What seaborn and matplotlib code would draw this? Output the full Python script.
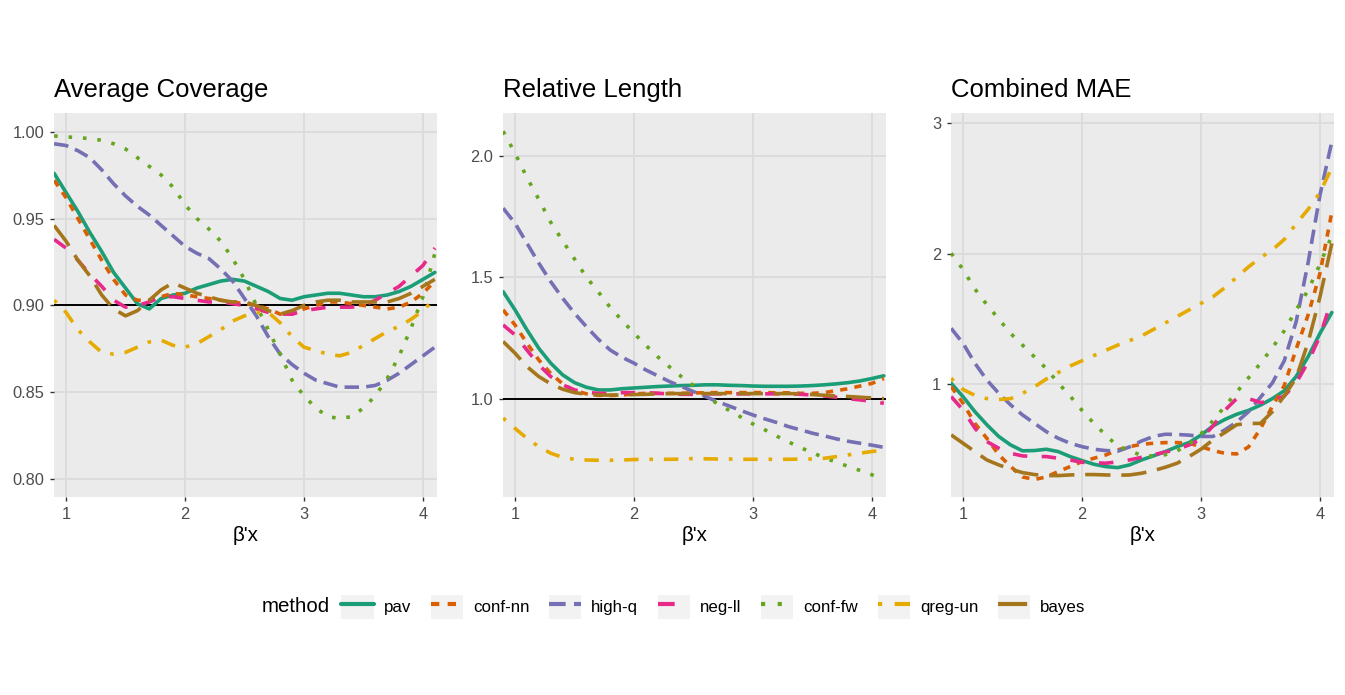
import pandas as pd
import seaborn as sns
import matplotlib
import matplotlib.pyplot as plt
from matplotlib.lines import Line2D
from matplotlib.patches import Rectangle
from matplotlib.legend_handler import HandlerLine2D

matplotlib.use("Agg")

# значения, шаг по β'x = 0.1
beta_x = [0.9, 1.0, 1.1, 1.2, 1.3, 1.4, 1.5, 1.6, 1.7, 1.8, 1.9,
          2.0, 2.1, 2.2, 2.3, 2.4, 2.5, 2.6, 2.7, 2.8, 2.9,
          3.0, 3.1, 3.2, 3.3, 3.4, 3.5, 3.6, 3.7, 3.8, 3.9, 4.0, 4.1]

methods = ["pav", "conf-nn", "high-q", "neg-ll", "conf-fw", "qreg-un", "bayes"]
panel_titles = ["Average Coverage", "Relative Length", "Combined MAE"]

# Average Coverage
cov_pav = [0.976, 0.965, 0.954, 0.942, 0.931, 0.919, 0.910, 0.901, 0.898, 0.904, 0.906,
           0.907, 0.910, 0.912, 0.914, 0.915, 0.914, 0.911, 0.908, 0.904, 0.903,
           0.905, 0.906, 0.907, 0.907, 0.906, 0.905, 0.905, 0.906, 0.908, 0.911, 0.915, 0.919]
cov_confnn = [0.972, 0.962, 0.950, 0.938, 0.926, 0.915, 0.906, 0.903, 0.903, 0.905, 0.907,
              0.906, 0.905, 0.904, 0.903, 0.902, 0.901, 0.900, 0.898, 0.895, 0.895,
              0.898, 0.900, 0.902, 0.902, 0.901, 0.900, 0.899, 0.898, 0.899, 0.902, 0.907, 0.914]
cov_highq = [0.993, 0.992, 0.989, 0.985, 0.978, 0.970, 0.963, 0.957, 0.952, 0.946, 0.940,
             0.934, 0.930, 0.927, 0.921, 0.914, 0.904, 0.894, 0.882, 0.872, 0.866,
             0.861, 0.857, 0.855, 0.853, 0.853, 0.853, 0.854, 0.857, 0.861, 0.866, 0.871, 0.876]
cov_negll = [0.938, 0.933, 0.926, 0.918, 0.911, 0.903, 0.899, 0.900, 0.902, 0.905, 0.905,
             0.904, 0.903, 0.902, 0.902, 0.901, 0.900, 0.898, 0.896, 0.895, 0.895,
             0.897, 0.898, 0.899, 0.899, 0.899, 0.900, 0.903, 0.907, 0.911, 0.917, 0.923, 0.933]
cov_conffw = [0.9975, 0.997, 0.9965, 0.996, 0.995, 0.993, 0.990, 0.985, 0.980, 0.975, 0.968,
              0.958, 0.950, 0.944, 0.937, 0.927, 0.915, 0.900, 0.886, 0.872, 0.857,
              0.848, 0.841, 0.836, 0.835, 0.836, 0.841, 0.848, 0.858, 0.871, 0.887, 0.905, 0.930]
cov_qregun = [0.903, 0.896, 0.886, 0.879, 0.873, 0.872, 0.873, 0.876, 0.879, 0.880, 0.877,
              0.876, 0.878, 0.882, 0.886, 0.891, 0.894, 0.896, 0.896, 0.890, 0.882,
              0.876, 0.874, 0.872, 0.871, 0.873, 0.877, 0.881, 0.885, 0.888, 0.892, 0.897, 0.904]
cov_bayes = [0.946, 0.937, 0.926, 0.917, 0.906, 0.898, 0.894, 0.897, 0.903, 0.909, 0.913,
             0.910, 0.907, 0.905, 0.903, 0.902, 0.902, 0.900, 0.897, 0.895, 0.897,
             0.900, 0.902, 0.903, 0.903, 0.902, 0.902, 0.902, 0.902, 0.904, 0.907, 0.911, 0.915]

# Relative Length
len_pav = [1.441, 1.366, 1.284, 1.208, 1.147, 1.099, 1.067, 1.048, 1.037, 1.037, 1.042,
           1.045, 1.048, 1.051, 1.053, 1.055, 1.056, 1.058, 1.058, 1.056, 1.055,
           1.053, 1.052, 1.052, 1.052, 1.053, 1.055, 1.058, 1.062, 1.067, 1.074, 1.084, 1.095]
len_confnn = [1.366, 1.304, 1.229, 1.160, 1.105, 1.062, 1.034, 1.021, 1.015, 1.014, 1.016,
              1.021, 1.023, 1.023, 1.023, 1.023, 1.025, 1.025, 1.026, 1.026, 1.026,
              1.026, 1.026, 1.025, 1.025, 1.023, 1.023, 1.026, 1.034, 1.042, 1.053, 1.064, 1.084]
len_highq = [1.784, 1.722, 1.640, 1.558, 1.482, 1.414, 1.352, 1.297, 1.245, 1.201, 1.171,
             1.147, 1.119, 1.095, 1.071, 1.051, 1.030, 1.010, 0.989, 0.971, 0.952,
             0.934, 0.918, 0.903, 0.886, 0.873, 0.859, 0.848, 0.836, 0.826, 0.818, 0.810, 0.801]
len_negll = [1.304, 1.263, 1.201, 1.140, 1.092, 1.058, 1.037, 1.027, 1.023, 1.023, 1.026,
             1.026, 1.026, 1.023, 1.021, 1.019, 1.019, 1.021, 1.021, 1.021, 1.021,
             1.021, 1.021, 1.021, 1.021, 1.019, 1.016, 1.012, 1.007, 1.001, 0.996, 0.990, 0.982]
len_conffw = [2.10, 2.01, 1.91, 1.82, 1.726, 1.65, 1.575, 1.50, 1.44, 1.376, 1.322,
              1.27, 1.22, 1.173, 1.131, 1.091, 1.055, 1.016, 0.98, 0.953, 0.925,
              0.897, 0.873, 0.847, 0.823, 0.80, 0.779, 0.758, 0.740, 0.723, 0.706, 0.688, 0.67]
len_qregun = [0.921, 0.879, 0.838, 0.804, 0.777, 0.760, 0.752, 0.749, 0.748, 0.748, 0.749,
              0.751, 0.752, 0.752, 0.752, 0.753, 0.755, 0.754, 0.753, 0.753, 0.752,
              0.752, 0.752, 0.752, 0.752, 0.753, 0.753, 0.756, 0.763, 0.770, 0.777, 0.784, 0.790]
len_bayes = [1.236, 1.188, 1.133, 1.092, 1.062, 1.040, 1.026, 1.019, 1.016, 1.016, 1.016,
             1.018, 1.019, 1.021, 1.022, 1.022, 1.022, 1.022, 1.022, 1.022, 1.022,
             1.022, 1.022, 1.022, 1.022, 1.021, 1.018, 1.015, 1.012, 1.010, 1.007, 1.004, 1.001]

# Combined MAE
mae_pav = [1.008, 0.905, 0.79, 0.69, 0.60, 0.535, 0.49, 0.492, 0.502, 0.484, 0.446,
           0.415, 0.387, 0.369, 0.361, 0.382, 0.420, 0.451, 0.484, 0.522, 0.553,
           0.61, 0.68, 0.73, 0.77, 0.80, 0.84, 0.89, 0.95, 1.06, 1.21, 1.39, 1.55]
mae_confnn = [0.982, 0.855, 0.70, 0.586, 0.46, 0.37, 0.29, 0.27, 0.29, 0.331, 0.369,
              0.407, 0.433, 0.458, 0.497, 0.522, 0.540, 0.548, 0.553, 0.553, 0.548,
              0.522, 0.492, 0.471, 0.466, 0.52, 0.66, 0.83, 0.99, 1.27, 1.53, 1.85, 2.32]
mae_highq = [1.429, 1.314, 1.161, 1.033, 0.931, 0.842, 0.765, 0.701, 0.637, 0.586, 0.548,
             0.522, 0.502, 0.492, 0.487, 0.52, 0.565, 0.60, 0.617, 0.615, 0.61,
             0.60, 0.60, 0.65, 0.71, 0.79, 0.90, 1.01, 1.18, 1.48, 1.93, 2.45, 2.86]
mae_negll = [0.906, 0.803, 0.663, 0.561, 0.510, 0.471, 0.451, 0.446, 0.446, 0.433, 0.420,
             0.402, 0.398, 0.395, 0.405, 0.420, 0.440, 0.460, 0.480, 0.50, 0.535,
             0.58, 0.68, 0.80, 0.89, 0.89, 0.86, 0.87, 0.91, 1.01, 1.17, 1.37, 1.65]
mae_conffw = [2.004, 1.88, 1.73, 1.61, 1.50, 1.39, 1.30, 1.21, 1.12, 1.01, 0.91,
              0.80, 0.70, 0.61, 0.525, 0.49, 0.455, 0.45, 0.46, 0.49, 0.54,
              0.62, 0.72, 0.83, 0.94, 1.05, 1.16, 1.28, 1.41, 1.57, 1.72, 1.92, 2.14]
mae_qregun = [1.046, 0.96, 0.915, 0.89, 0.883, 0.89, 0.93, 0.98, 1.04, 1.09, 1.14,
              1.18, 1.22, 1.26, 1.30, 1.335, 1.37, 1.42, 1.47, 1.52, 1.57,
              1.62, 1.67, 1.74, 1.82, 1.90, 1.97, 2.03, 2.11, 2.23, 2.34, 2.47, 2.66]
mae_bayes = [0.612, 0.548, 0.484, 0.420, 0.382, 0.349, 0.323, 0.308, 0.300, 0.300, 0.305,
             0.308, 0.308, 0.305, 0.303, 0.305, 0.318, 0.338, 0.364, 0.395, 0.446,
             0.502, 0.573, 0.63, 0.69, 0.70, 0.70, 0.79, 0.91, 1.05, 1.32, 1.67, 2.08]

panel_values = [
    [cov_pav, cov_confnn, cov_highq, cov_negll, cov_conffw, cov_qregun, cov_bayes],
    [len_pav, len_confnn, len_highq, len_negll, len_conffw, len_qregun, len_bayes],
    [mae_pav, mae_confnn, mae_highq, mae_negll, mae_conffw, mae_qregun, mae_bayes],
]
ref_lines = [0.9, 1.0, None]

# оформление
palette = dict(zip(methods, ["#1B9E77", "#D95F02", "#7570B3", "#E7298A",
                             "#66A61E", "#E6AB02", "#A6761D"]))
dashes = dict(zip(methods, ["", (2, 2), (4, 2), (4, 4), (1, 3), (1, 3, 4, 3), (7, 3)]))
lw = 2.6
ylims = [(0.7898, 1.0107), (0.597, 2.175), (0.136, 3.079)]
yticks = [[0.80, 0.85, 0.90, 0.95, 1.00], [1.0, 1.5, 2.0], [1, 2, 3]]
yfmt = ["{:.2f}", "{:.1f}", "{:.0f}"]
lefts = [54, 503, 951]

sns.set_style("darkgrid")
plt.rcParams["font.family"] = ["Liberation Sans", "DejaVu Sans"]
plt.rcParams["text.color"] = "black"

fig = plt.figure(figsize=(13.45, 6.95), dpi=100)
W, H = 1345, 695

for i in range(3):
    ax = fig.add_axes([lefts[i] / W, 1 - 497 / H, 383 / W, 384 / H])
    rows = []
    for m, vals in zip(methods, panel_values[i]):
        for xv, yv in zip(beta_x, vals):
            rows.append({"x": xv, "value": yv, "method": m})
    df = pd.DataFrame(rows)
    if ref_lines[i] is not None:
        ax.axhline(ref_lines[i], color="black", lw=1.4, zorder=1)
    sns.lineplot(data=df, x="x", y="value", hue="method", style="method",
                 palette=palette, dashes=dashes, linewidth=lw, legend=False,
                 errorbar=None, ax=ax, zorder=2)
    ax.set_facecolor("#EBEBEB")
    ax.grid(True, color="#DCDCDC", lw=1.4)
    ax.set_axisbelow(True)
    for s in ax.spines.values():
        s.set_visible(False)
    ax.set_xlim(0.899, 4.118)
    ax.set_ylim(*ylims[i])
    ax.set_xticks([1, 2, 3, 4])
    ax.set_xticklabels(["1", "2", "3", "4"])
    ax.set_yticks(yticks[i])
    ax.set_yticklabels([yfmt[i].format(v) for v in yticks[i]])
    ax.tick_params(length=3.2, width=1.0, color="#333333", labelcolor="#4D4D4D",
                   labelsize=11.8, pad=4.0, bottom=True, left=True)
    ax.set_xlabel("β'x", fontsize=14.8, labelpad=3, color="black")
    ax.set_ylabel("")
    ax.set_title(panel_titles[i], loc="left", fontsize=18.5, pad=11.5, color="black")


class KeyHandler(HandlerLine2D):
    # серый квадрат под ключом, как в ggplot
    def create_artists(self, legend, orig_handle, xdescent, ydescent,
                       width, height, fontsize, trans):
        bg = Rectangle((-xdescent, -ydescent), width, height, facecolor="#F2F2F2",
                       edgecolor="none", transform=trans)
        arts = super().create_artists(legend, orig_handle, xdescent, ydescent,
                                      width, height, fontsize, trans)
        return [bg] + list(arts)


handles = []
for m in methods:
    if dashes[m] == "":
        h = Line2D([], [], color=palette[m], lw=lw + 0.4, linestyle="-")
    else:
        h = Line2D([], [], color=palette[m], lw=lw + 0.4, dashes=dashes[m])
    handles.append(h)

leg = fig.legend(handles, methods, ncol=7, loc="center",
                 bbox_to_anchor=(713.5 / W, 1 - 607 / H), frameon=False,
                 fontsize=12.2, handlelength=1.9, handleheight=1.85,
                 handletextpad=0.6, columnspacing=1.15,
                 handler_map={Line2D: KeyHandler(marker_pad=0.1)})
for t in leg.get_texts():
    t.set_color("black")

fig.canvas.draw()
bb = leg.get_window_extent()
fig.text((bb.x0 + 8 - 13) / W, 1 - 607 / H, "method", ha="right", va="center",
         fontsize=14.8, color="black")

fig.savefig("out.png", dpi=100)
